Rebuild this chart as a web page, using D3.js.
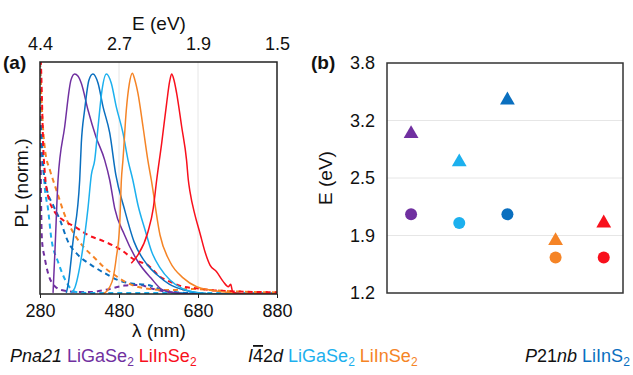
<!DOCTYPE html>
<html>
<head>
<meta charset="utf-8">
<script src="https://cdn.jsdelivr.net/npm/d3@7"></script>
<style>
    body { margin: 0; background: #fff; }
    svg { font-family: "Liberation Sans", Arial, sans-serif; }
    .axis text { font-size: 18px; fill: #111; }
</style>
</head>
<body>
<svg id="chart" width="633" height="375"></svg>
<script>
// panel (a): PL spectra, [wavelength nm, normalised PL]
const wavelengthTicks = [280, 480, 680, 880];
const energyTickLabels = ["4.4", "2.7", "1.9", "1.5"];

const purpleSolid = [[313, 0.005], [318, 0.2], [325.6, 0.516], [342.5, 0.757], [358.5, 0.969], [367.8, 0.996], [376, 0.987],
    [384.6, 0.954], [401.5, 0.833], [421.8, 0.711], [443.8, 0.606], [456.5, 0.516], [469, 0.389], [494, 0.267],
    [528, 0.146], [561, 0.072], [591, 0.018], [626, 0.005], [660, 0], [880, 0]];
const darkBlueSolid = [[346.6, 0.005], [351, 0.04], [363.5, 0.237], [380.5, 0.516], [384.6, 0.683], [393, 0.833], [404, 0.969],
    [414, 0.996], [427, 0.954], [439.5, 0.848], [456.5, 0.729], [472, 0.539], [493, 0.389], [518, 0.237],
    [552, 0.131], [577, 0.086], [607, 0.045], [645, 0.018], [683, 0.005], [720, 0], [880, 0]];
const lightBlueSolid = [[358.5, 0.005], [368, 0.027], [384.6, 0.163], [401.5, 0.389], [410, 0.539], [418.5, 0.606], [427, 0.757],
    [437, 0.923], [448, 0.996], [460.5, 0.954], [473, 0.848], [490, 0.729], [502.8, 0.606], [515, 0.516],
    [528, 0.403], [546, 0.29], [563, 0.19], [584, 0.118], [609, 0.063], [642, 0.023], [685, 0.005], [725, 0], [880, 0]];
const orangeSolid = [[440, 0], [456, 0.03], [465, 0.072], [473, 0.163], [481.7, 0.312], [486, 0.516], [490, 0.606], [498.5, 0.833],
    [506, 0.95], [513.7, 0.999], [520, 0.97], [528, 0.908], [540.8, 0.757], [553, 0.606], [561.8, 0.516],
    [583.8, 0.267], [609, 0.146], [643, 0.072], [676.7, 0.033], [710, 0.018], [752.6, 0.008], [790, 0], [880, 0]];
const redSolid = [[511, 0.139], [528, 0.177], [553.4, 0.282], [566.8, 0.389], [575.4, 0.516], [588, 0.682],
    [600.6, 0.863], [608, 0.96], [613.3, 0.996], [619, 0.97], [626, 0.908], [638.7, 0.757], [651, 0.606],
    [655.5, 0.516], [659.7, 0.463], [672.4, 0.357], [685, 0.275], [697.7, 0.191], [710.4, 0.131], [727, 0.101],
    [744, 0.056], [756.7, 0.033], [762.7, 0.044], [767.8, 0.01], [778, 0.003], [800, 0], [880, 0]];

const purpleDashed = [[280, 1.05], [281, 0.787], [283, 0.389], [285, 0.244], [292, 0.163], [308.6, 0.056], [334, 0.018],
    [368, 0.01], [406.6, 0.009], [444, 0.018], [494.5, 0.038], [533, 0.041], [558.5, 0.027], [600.8, 0.01],
    [647, 0.002], [685, 0], [880, 0]];
const lightBlueDashed = [[280, 1.05], [282.5, 0.833], [287.6, 0.606], [292.7, 0.471], [300, 0.389], [308.6, 0.253],
    [325.6, 0.146], [351, 0.041], [368, 0.01], [401.5, 0.005], [600, 0.005], [880, 0.004]];
const darkBlueDashed = [[280, 1.05], [282.5, 0.787], [287.6, 0.584], [297.7, 0.471], [313, 0.403], [330.6, 0.335],
    [351, 0.237], [376, 0.177], [410, 0.131], [444, 0.094], [477.5, 0.063], [511, 0.048], [553, 0.041],
    [591, 0.018], [626, 0.008], [685, 0.002], [720, 0], [880, 0]];
const orangeDashed = [[280, 1.05], [285, 0.833], [292.7, 0.652], [305, 0.561], [313, 0.516], [325.6, 0.448], [342.5, 0.358],
    [368, 0.267], [393, 0.208], [418.5, 0.163], [444, 0.118], [469, 0.086], [494.5, 0.056], [520.5, 0.036],
    [558.5, 0.023], [609, 0.018], [667, 0.023], [710, 0.018], [786, 0.011], [880, 0.007]];
const redDashed = [[280, 1.1], [282.5, 1.036], [285, 0.878], [287.6, 0.697], [292.7, 0.539], [300, 0.448], [317, 0.372],
    [338, 0.335], [368, 0.305], [401.5, 0.267], [444, 0.237], [486, 0.199], [520, 0.154], [553, 0.131],
    [584, 0.078], [609, 0.056], [643, 0.033], [677, 0.026], [710, 0.018], [786, 0.011], [880, 0.008]];

// panel (b): band energies
const compounds = ["Pna21 LiGaSe2", "I-42d LiGaSe2", "P21nb LiInS2", "I-42d LiInSe2", "Pna21 LiInSe2"];
const triangleEnergies = [3.0, 2.68, 3.38, 1.79, 1.99];
const circleEnergies = [2.09, 1.99, 2.09, 1.60, 1.60];
const energyTicks = [1.2, 1.85, 2.5, 3.15, 3.8];
const energyTickText = ["1.2", "1.9", "2.5", "3.2", "3.8"];

const PURPLE = "#7030a0";
const LIGHT_BLUE = "#1cb0ee";
const DARK_BLUE = "#0a6fbf";
const ORANGE = "#f58426";
const RED = "#f8101c";
const compoundColors = [PURPLE, LIGHT_BLUE, DARK_BLUE, ORANGE, RED];

const svg = d3.select("#chart");
svg.append("rect").attr("width", 633).attr("height", 375).attr("fill", "#fff");

const translate = (x, y) => "translate(" + x + "," + y + ")";

// ---------- panel (a) ----------
const A_LEFT = 40, A_RIGHT = 277, A_TOP = 62, A_BOTTOM = 294;
const lambdaScale = d3.scaleLinear().domain([280, 880]).range([A_LEFT, A_RIGHT]);
const plScale = d3.scaleLinear().domain([0, 1.05]).range([A_BOTTOM, A_TOP]);

svg.append("clipPath").attr("id", "clipA")
    .append("rect")
    .attr("x", A_LEFT).attr("y", A_TOP)
    .attr("width", A_RIGHT - A_LEFT).attr("height", A_BOTTOM - A_TOP);

svg.append("g").selectAll("line").data([480, 680]).enter()
    .append("line")
    .attr("x1", d => lambdaScale(d)).attr("x2", d => lambdaScale(d))
    .attr("y1", A_TOP).attr("y2", A_BOTTOM)
    .attr("stroke", "#e6e6e6").attr("stroke-width", 1);

const spectrumLine = d3.line()
    .x(d => lambdaScale(d[0]))
    .y(d => plScale(d[1]))
    .curve(d3.curveMonotoneX);

const curves = [
    {data: purpleDashed, color: PURPLE, dashed: true},
    {data: lightBlueDashed, color: LIGHT_BLUE, dashed: true},
    {data: darkBlueDashed, color: DARK_BLUE, dashed: true},
    {data: orangeDashed, color: ORANGE, dashed: true},
    {data: redDashed, color: RED, dashed: true},
    {data: purpleSolid, color: PURPLE, dashed: false},
    {data: darkBlueSolid, color: DARK_BLUE, dashed: false},
    {data: lightBlueSolid, color: LIGHT_BLUE, dashed: false},
    {data: orangeSolid, color: ORANGE, dashed: false},
    {data: redSolid, color: RED, dashed: false}
];

svg.append("g").attr("clip-path", "url(#clipA)")
    .selectAll("path").data(curves).enter()
    .append("path")
    .attr("d", d => spectrumLine(d.data))
    .attr("fill", "none")
    .attr("stroke", d => d.color)
    .attr("stroke-width", d => d.dashed ? 2 : 1.5)
    .attr("stroke-dasharray", d => d.dashed ? "5,4" : null);

svg.append("rect")
    .attr("x", A_LEFT).attr("y", A_TOP)
    .attr("width", A_RIGHT - A_LEFT).attr("height", A_BOTTOM - A_TOP)
    .attr("fill", "none").attr("stroke", "#222").attr("stroke-width", 1.5);

const xAxisA = svg.append("g").attr("class", "axis")
    .attr("transform", translate(0, A_BOTTOM))
    .call(d3.axisBottom(lambdaScale).tickValues(wavelengthTicks).tickSize(4).tickPadding(6));
xAxisA.select(".domain").remove();
xAxisA.selectAll(".tick line").attr("stroke", "#222");

const topAxisA = svg.append("g").attr("class", "axis")
    .attr("transform", translate(0, A_TOP))
    .call(d3.axisTop(lambdaScale).tickValues(wavelengthTicks)
        .tickFormat((d, i) => energyTickLabels[i]).tickSize(0).tickPadding(12));
topAxisA.select(".domain").remove();

svg.append("text").attr("x", 159).attr("y", 30)
    .attr("text-anchor", "middle").attr("font-size", 19).attr("fill", "#111")
    .text("E (eV)");
svg.append("text").attr("x", 159).attr("y", 337)
    .attr("text-anchor", "middle").attr("font-size", 19).attr("fill", "#111")
    .text("λ (nm)");
svg.append("text")
    .attr("transform", translate(28, 183) + " rotate(-90)")
    .attr("text-anchor", "middle").attr("font-size", 19).attr("fill", "#111")
    .text("PL (norm.)");
svg.append("text").attr("x", 3).attr("y", 69)
    .attr("font-size", 19).attr("font-weight", "bold").attr("fill", "#111")
    .text("(a)");

// ---------- panel (b) ----------
const B_LEFT = 387, B_RIGHT = 623, B_TOP = 63, B_BOTTOM = 293;
const compoundScale = d3.scaleLinear().domain([0.5, 5.4]).range([B_LEFT, B_RIGHT]);
const energyScale = d3.scaleLinear().domain([1.2, 3.8]).range([B_BOTTOM, B_TOP]);

svg.append("g").selectAll("line").data(energyTicks.slice(1, 4)).enter()
    .append("line")
    .attr("x1", B_LEFT).attr("x2", B_RIGHT)
    .attr("y1", d => energyScale(d)).attr("y2", d => energyScale(d))
    .attr("stroke", "#e6e6e6").attr("stroke-width", 1);

svg.append("rect")
    .attr("x", B_LEFT).attr("y", B_TOP)
    .attr("width", B_RIGHT - B_LEFT).attr("height", B_BOTTOM - B_TOP)
    .attr("fill", "none").attr("stroke", "#333").attr("stroke-width", 1.5);

const yAxisB = svg.append("g").attr("class", "axis")
    .attr("transform", translate(B_LEFT, 0))
    .call(d3.axisLeft(energyScale).tickValues(energyTicks)
        .tickFormat((d, i) => energyTickText[i]).tickSize(0).tickPadding(12));
yAxisB.select(".domain").remove();

svg.append("text")
    .attr("transform", translate(332, 178) + " rotate(-90)")
    .attr("text-anchor", "middle").attr("font-size", 19).attr("fill", "#111")
    .text("E (eV)");
svg.append("text").attr("x", 311).attr("y", 69)
    .attr("font-size", 19).attr("font-weight", "bold").attr("fill", "#111")
    .text("(b)");

const markers = svg.append("g");
markers.selectAll("path.tri").data(triangleEnergies).enter()
    .append("path")
    .attr("class", "tri")
    .attr("d", d3.symbol().type(d3.symbolTriangle).size(95))
    .attr("transform", (d, i) => translate(compoundScale(i + 1), energyScale(d)))
    .attr("fill", (d, i) => compoundColors[i]);
markers.selectAll("circle.dot").data(circleEnergies).enter()
    .append("circle")
    .attr("class", "dot")
    .attr("cx", (d, i) => compoundScale(i + 1))
    .attr("cy", d => energyScale(d))
    .attr("r", 6)
    .attr("fill", (d, i) => compoundColors[i]);

// ---------- legend ----------
// parts: [text, style, colour]; style i = italic, o = overline, s = subscript
const legendItems = [
    {x: 10, parts: [["Pna21", "i"], [" ", ""], ["LiGaSe", "", PURPLE], ["2", "s", PURPLE],
        [" ", ""], ["LiInSe", "", RED], ["2", "s", RED]]},
    {x: 248, parts: [["I", "i"], ["4", "o"], ["2", ""], ["d", "i"], [" ", ""], ["LiGaSe", "", LIGHT_BLUE], ["2", "s", LIGHT_BLUE],
        [" ", ""], ["LiInSe", "", ORANGE], ["2", "s", ORANGE]]},
    {x: 525, parts: [["P", "i"], ["21", ""], ["nb", "i"], [" ", ""], ["LiInS", "", DARK_BLUE], ["2", "s", DARK_BLUE]]}
];

legendItems.forEach(item => {
    const t = svg.append("text").attr("x", item.x).attr("y", 362)
        .attr("font-size", 18).attr("fill", "#111")
        .attr("xml:space", "preserve");
    let lowered = false;
    item.parts.forEach(p => {
        const span = t.append("tspan").text(p[0]);
        if (p[2]) span.attr("fill", p[2]);
        if (p[1] === "i") span.attr("font-style", "italic");
        if (p[1] === "o") span.style("text-decoration", "overline");
        if (p[1] === "s") {
            span.attr("font-size", 12).attr("dy", 4);
            lowered = true;
        } else if (lowered) {
            span.attr("dy", -4);
            lowered = false;
        }
    });
});
</script>
</body>
</html>
